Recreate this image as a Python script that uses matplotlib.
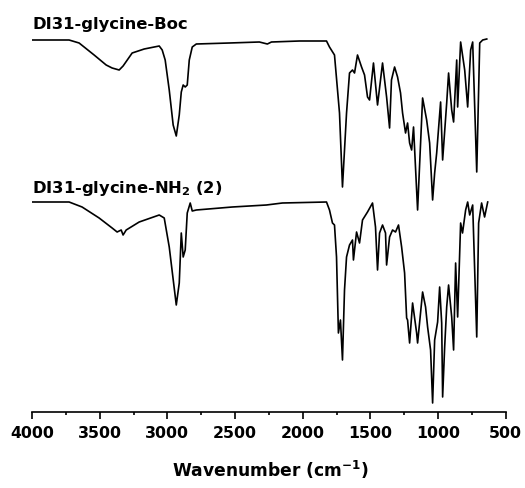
import matplotlib
matplotlib.use("Agg")
import matplotlib.pyplot as plt
import numpy as np

plt.rcParams['font.family'] = ['DejaVu Sans']
plt.rcParams['mathtext.fontset'] = 'dejavusans'

# Top spectrum: DI31-glycine-Boc (wavenumber, offset transmittance)
boc_wn = [4000, 3726, 3652, 3541, 3452, 3408, 3356, 3327, 3260, 3171, 3060, 3038, 3016, 2986,
          2957, 2934, 2912, 2897, 2883, 2868, 2853, 2838, 2816, 2786, 2542, 2320, 2261, 2231,
          2024, 1824, 1802, 1765, 1728, 1706, 1676, 1654, 1632, 1617, 1595, 1565, 1543, 1521,
          1506, 1477, 1447, 1410, 1380, 1358, 1344, 1321, 1299, 1277, 1262, 1240, 1225, 1210,
          1195, 1181, 1151, 1114, 1084, 1062, 1040, 1025, 1010, 981, 966, 936, 922, 899, 885,
          862, 855, 833, 803, 781, 759, 744, 714, 692, 670, 640]
boc_t = [373, 373, 370, 358, 348, 345, 343, 347, 360, 364, 367, 363, 353, 323,
         288, 277, 298, 321, 328, 326, 328, 353, 366, 369, 370, 371, 369, 371,
         372, 372, 366, 358, 300, 226, 300, 340, 343, 340, 358, 346, 338, 316,
         313, 350, 308, 350, 316, 285, 333, 346, 336, 320, 300, 280, 290, 270,
         263, 286, 203, 315, 293, 270, 213, 240, 260, 311, 253, 310, 340, 303,
         291, 353, 306, 371, 343, 306, 363, 371, 241, 370, 373, 374]

# Bottom spectrum: DI31-glycine-NH2 (2)
nh2_wn = [4000, 3726, 3630, 3504, 3408, 3371, 3341, 3327, 3304, 3208, 3060, 3023, 2986, 2934,
          2912, 2897, 2883, 2868, 2853, 2831, 2816, 2786, 2520, 2268, 2150, 1824, 1802, 1780,
          1765, 1750, 1736, 1721, 1706, 1691, 1676, 1654, 1632, 1625, 1602, 1580, 1558, 1521,
          1484, 1462, 1447, 1432, 1410, 1388, 1380, 1358, 1336, 1314, 1292, 1269, 1247, 1232,
          1225, 1210, 1188, 1158, 1151, 1114, 1092, 1077, 1055, 1040, 1025, 1003, 988, 973,
          966, 951, 936, 922, 899, 885, 870, 855, 833, 819, 796, 781, 766, 744, 714, 700,
          678, 656, 633]
nh2_t = [211, 211, 206, 195, 185, 181, 183, 178, 183, 191, 198, 195, 166, 108,
         130, 180, 156, 163, 200, 210, 202, 203, 206, 208, 210, 211, 203, 190,
         188, 156, 80, 93, 53, 123, 156, 168, 173, 153, 181, 170, 193, 201,
         210, 186, 143, 180, 188, 180, 148, 176, 183, 181, 188, 166, 140, 95,
         93, 70, 110, 80, 70, 121, 106, 86, 63, 10, 73, 91, 126, 90,
         16, 66, 106, 128, 96, 63, 150, 96, 190, 180, 203, 211, 198, 208, 76, 190,
         210, 196, 211]

x_ticks = [4000, 3500, 3000, 2500, 2000, 1500, 1000, 500]
labels = ['DI31-glycine-Boc', 'DI31-glycine-NH$_\\mathbf{2}$ (2)']

fig = plt.figure(figsize=(5.25, 4.88), dpi=100)
ax = fig.add_axes([32/525, 1 - 412/488, 473.7/525, 400/488])
ax.plot(boc_wn, boc_t, color='black', lw=1.2)
ax.plot(nh2_wn, nh2_t, color='black', lw=1.2)

ax.set_xlim(4000, 500)
ax.set_ylim(1, 401)
for s in ['left', 'right', 'top']:
    ax.spines[s].set_visible(False)
ax.spines['bottom'].set_linewidth(1.2)
ax.set_yticks([])
ax.set_xticks(x_ticks)
ax.set_xticks(np.arange(3750, 500, -500), minor=True)
ax.tick_params(axis='x', which='major', direction='out', length=4.8, width=1.2,
               labelsize=11.3, pad=5.0)
ax.tick_params(axis='x', which='minor', direction='out', length=2.4, width=1.2)
for lab in ax.get_xticklabels():
    lab.set_fontweight('bold')

fig.text(270/525, (488 - 476.7)/488, 'Wavenumber (cm$^{\\mathbf{-1}}$)', fontsize=12.3,
         fontweight='bold', ha='center', va='baseline')

ax.text(0.0, (413 - 29 - 1) / 400, labels[0], transform=ax.transAxes,
        fontsize=11.8, fontweight='bold', ha='left', va='baseline')
ax.text(0.0, (413 - 193.5 - 1) / 400, labels[1], transform=ax.transAxes,
        fontsize=11.8, fontweight='bold', ha='left', va='baseline')

fig.savefig('out.png', dpi=100)
